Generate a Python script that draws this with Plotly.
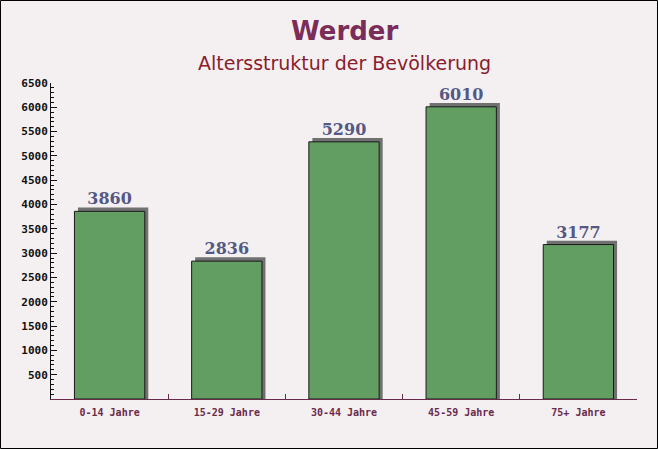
import plotly.graph_objects as go

# data
categories = ["0-14 Jahre", "15-29 Jahre", "30-44 Jahre", "45-59 Jahre", "75+ Jahre"]
values = [3860, 2836, 5290, 6010, 3177]
y_ticks = [500, 1000, 1500, 2000, 2500, 3000, 3500, 4000, 4500, 5000, 5500, 6000, 6500]

W, H = 658, 449
L, R, T, B = 51, 21, 83, 50
pw, ph = W - L - R, H - T - B

fig = go.Figure()

# shadow behind each bar (shifted a few px right / up)
fig.add_trace(go.Bar(
    x=categories,
    y=[v + 80 for v in values],
    width=0.6,
    offset=-0.27,
    marker=dict(color="rgba(90,90,90,0.85)", line=dict(width=0)),
    hoverinfo="skip",
    showlegend=False,
))

fig.add_trace(go.Bar(
    x=categories,
    y=values,
    width=0.6,
    offset=-0.3,
    marker=dict(color="#629d62", line=dict(color="#1a1a1a", width=1)),
    text=[str(v) for v in values],
    textposition="outside",
    textfont=dict(family="DejaVu Serif", size=16, color="#545883", weight="bold"),
    cliponaxis=False,
    showlegend=False,
))

fig.update_layout(
    width=W, height=H,
    margin=dict(l=L, r=R, t=T, b=B),
    paper_bgcolor="#f4f0f2",
    plot_bgcolor="rgba(0,0,0,0)",
    barmode="overlay",
    bargap=0.4,
    showlegend=False,
    xaxis=dict(
        showline=True, linecolor="#6a2a4a", linewidth=1,
        ticks="inside", ticklen=5, tickcolor="#6a2a4a", tickson="boundaries",
        tickfont=dict(family="DejaVu Sans Mono", size=10, color="#6a2a4a", weight="bold"),
        ticklabelstandoff=4,
        showgrid=False, fixedrange=True,
    ),
    yaxis=dict(
        range=[0, 6500],
        tickvals=y_ticks,
        showline=True, linecolor="#111", linewidth=1,
        ticks="inside", ticklen=6, tickcolor="#111",
        minor=dict(dtick=100, ticks="inside", ticklen=3, tickcolor="#111"),
        tickfont=dict(family="DejaVu Sans Mono", size=11, color="#111", weight="bold"),
        showgrid=False, zeroline=False,
    ),
    annotations=[
        dict(text="Werder", x=0.5, y=(H - 31 - B) / ph, xref="paper", yref="paper",
             xanchor="center", yanchor="middle", showarrow=False,
             font=dict(family="DejaVu Sans", size=26, color="#7b2d5a", weight="bold")),
        dict(text="Altersstruktur der Bevölkerung", x=0.5, y=(H - 63 - B) / ph,
             xref="paper", yref="paper", xanchor="center", yanchor="middle",
             showarrow=False,
             font=dict(family="DejaVu Sans", size=19, color="#8a1c2c")),
    ],
    shapes=[
        dict(type="rect", xref="paper", yref="paper",
             x0=-(L - 0.5) / pw, x1=(pw + R - 0.5) / pw,
             y0=-(B - 0.5) / ph, y1=(ph + T - 0.5) / ph,
             line=dict(color="#000", width=1), fillcolor="rgba(0,0,0,0)"),
    ],
)

fig.write_html("out.html", config={"displayModeBar": False},
               post_script="document.body.style.margin='0';")
